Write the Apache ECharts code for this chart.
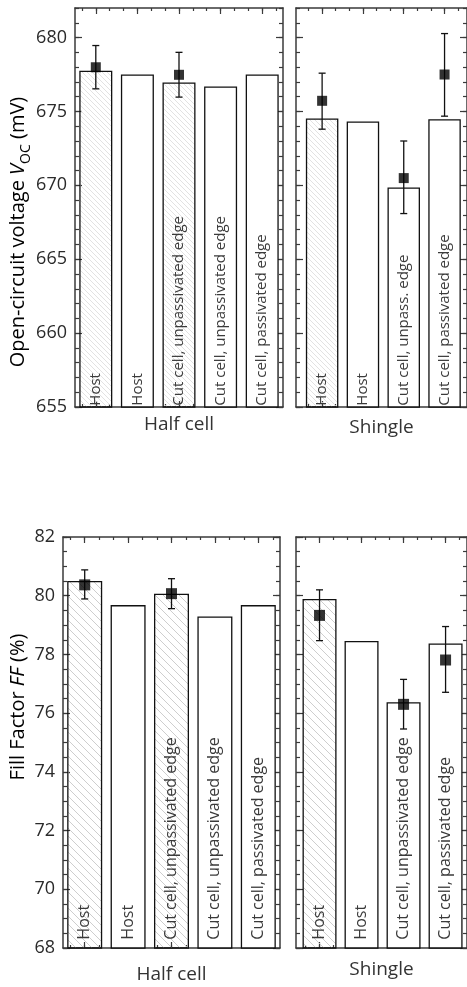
<!DOCTYPE html>
<html><head><meta charset="utf-8">
<script src="https://cdn.jsdelivr.net/npm/echarts@6/dist/echarts.min.js"></script>
<style>html,body{margin:0;padding:0;background:#fff}#c{width:467px;height:987px}</style>
</head><body><div id="c"></div>
<script>
// ---------- data ----------
const halfNames = ['Host', 'Host', 'Cut cell, unpassivated edge', 'Cut cell, unpassivated edge', 'Cut cell, passivated edge'];
const shingleNamesVoc = ['Host', 'Host', 'Cut cell, unpass. edge', 'Cut cell, passivated edge'];
const shingleNamesFF = ['Host', 'Host', 'Cut cell, unpassivated edge', 'Cut cell, passivated edge'];
const halfHatched = [true, false, true, false, false];
const shingleHatched = [true, false, false, false];
const halfPos = [0, 1, 2, 3, 4];
const shinglePos = [0, 1, 2, 3];

const vocHalfBar = [677.75, 677.5, 676.96, 676.69, 677.5];
const vocHalfMean = [677.99, null, 677.48, null, null];
const vocHalfLow = [676.53, null, 675.97, null, null];
const vocHalfHigh = [679.46, null, 679.0, null, null];
const vocShingleBar = [674.53, 674.32, 669.86, 674.48];
const vocShingleMean = [675.72, null, 670.49, 677.5];
const vocShingleLow = [673.8, null, 668.09, 674.68];
const vocShingleHigh = [677.59, null, 673.0, 680.27];

const ffHalfBar = [80.5, 79.68, 80.07, 79.29, 79.68];
const ffHalfMean = [80.37, null, 80.07, null, null];
const ffHalfLow = [79.89, null, 79.56, null, null];
const ffHalfHigh = [80.88, null, 80.58, null, null];
const ffShingleBar = [79.89, 78.46, 76.37, 78.37];
const ffShingleMean = [79.33, null, 76.3, 77.81];
const ffShingleLow = [78.47, null, 75.46, 76.71];
const ffShingleHigh = [80.2, null, 77.15, 78.95];

const vocTicks = [655, 660, 665, 670, 675, 680];
const vocMinorTicks = [655,656,657,658,659,660,661,662,663,664,665,666,667,668,669,670,671,672,673,674,675,676,677,678,679,680,681,682];
const ffTicks = [68, 70, 72, 74, 76, 78, 80, 82];
const ffMinorTicks = [68,68.5,69,69.5,70,70.5,71,71.5,72,72.5,73,73.5,74,74.5,75,75.5,76,76.5,77,77.5,78,78.5,79,79.5,80,80.5,81,81.5,82];

// ---------- style ----------
const FONT = 'Open Sans';
const AX = '#3a3a3a';
const chart = echarts.init(document.getElementById('c'), null, {renderer: 'canvas'});

function hatch(size, color, lw) {
  const c = document.createElement('canvas');
  c.width = size; c.height = size;
  const g = c.getContext('2d');
  g.strokeStyle = color; g.lineWidth = lw;
  g.beginPath();
  g.moveTo(0, 0); g.lineTo(size, size);
  g.moveTo(-2, size - 2); g.lineTo(2, size + 2);
  g.moveTo(size - 2, -2); g.lineTo(size + 2, 2);
  g.stroke();
  return c;
}
const hatchTop = hatch(5, '#dadada', 0.8);
const hatchBot = hatch(8, '#c8c8c8', 0.9);

function minorX(min, max) {
  const out = [];
  for (let k = Math.ceil(min * 3); k <= Math.floor(max * 3); k++) out.push(k / 3);
  return out;
}

const xAxes = [], yAxes = [], series = [];

function panel(cfg) {
  const gi = cfg.gi;
  const xi = xAxes.length, yi = yAxes.length;
  const line = {show: true, onZero: false, lineStyle: {color: AX, width: 1.5}};
  const noLine = {show: false, onZero: false};
  const base = {type: 'value', gridIndex: gi, min: cfg.xmin, max: cfg.xmax, splitLine: {show: false}, axisLabel: {show: false}};
  xAxes.push(Object.assign({}, base, {position: 'bottom', axisLine: line,
    axisTick: {show: true, inside: true, length: 6, customValues: cfg.pos, lineStyle: {color: AX, width: 1.2}},
    name: cfg.title, nameLocation: 'middle', nameGap: cfg.titleGap,
    nameTextStyle: {fontFamily: FONT, fontSize: 19, color: '#333'}}));
  xAxes.push(Object.assign({}, base, {position: 'top', axisLine: line,
    axisTick: {show: true, inside: true, length: 6, customValues: cfg.pos, lineStyle: {color: AX, width: 1.2}}}));
  const mx = minorX(cfg.xmin, cfg.xmax);
  xAxes.push(Object.assign({}, base, {position: 'bottom', axisLine: noLine,
    axisTick: {show: true, inside: true, length: 3, customValues: mx, lineStyle: {color: AX, width: 1.2}}}));
  xAxes.push(Object.assign({}, base, {position: 'top', axisLine: noLine,
    axisTick: {show: true, inside: true, length: 3, customValues: mx, lineStyle: {color: AX, width: 1.2}}}));

  const ybase = {type: 'value', gridIndex: gi, min: cfg.ymin, max: cfg.ymax, splitLine: {show: false}, axisLabel: {show: false}};
  yAxes.push(Object.assign({}, ybase, {position: 'left', axisLine: line,
    axisTick: {show: true, inside: true, length: 7, customValues: cfg.yMajor, lineStyle: {color: AX, width: 1.2}},
    axisLabel: {show: cfg.yLabels, customValues: cfg.yMajor, margin: 8, fontFamily: FONT, fontSize: 18, color: '#2a2a2a'}}));
  yAxes.push(Object.assign({}, ybase, {position: 'right', axisLine: line,
    axisTick: {show: true, inside: true, length: 7, customValues: cfg.yMajor, lineStyle: {color: AX, width: 1.2}}}));
  yAxes.push(Object.assign({}, ybase, {position: 'left', axisLine: noLine,
    axisTick: {show: true, inside: true, length: 4, customValues: cfg.yMinor, lineStyle: {color: AX, width: 1.2}}}));
  yAxes.push(Object.assign({}, ybase, {position: 'right', axisLine: noLine,
    axisTick: {show: true, inside: true, length: 4, customValues: cfg.yMinor, lineStyle: {color: AX, width: 1.2}}}));

  const pat = cfg.bottom ? hatchBot : hatchTop;
  series.push({
    type: 'bar', xAxisIndex: xi, yAxisIndex: yi, barWidth: cfg.barW, z: 2,
    data: cfg.pos.map((p, i) => ({
      value: [p, cfg.bar[i]],
      itemStyle: {color: cfg.hatched[i] ? {image: pat, repeat: 'repeat'} : '#fff', borderColor: '#111', borderWidth: 1.3}
    })),
    label: {show: true, position: 'insideBottom', rotate: 90, align: 'left', verticalAlign: 'middle',
      distance: cfg.labelDist, fontFamily: FONT, fontSize: cfg.labelSize, color: '#3a3a3a',
      formatter: p => cfg.names[p.dataIndex]},
    emphasis: {disabled: true}, silent: true
  });
  const err = [], pts = [];
  cfg.pos.forEach((p, i) => {
    if (cfg.low[i] != null) err.push([p, cfg.low[i], cfg.high[i]]);
    if (cfg.mean[i] != null) pts.push([p, cfg.mean[i]]);
  });
  series.push({
    type: 'custom', xAxisIndex: xi, yAxisIndex: yi, z: 5, silent: true,
    data: err,
    renderItem: (params, api) => {
      const x = api.value(0);
      const a = api.coord([x, api.value(1)]), b = api.coord([x, api.value(2)]);
      const w = 3.5, st = {stroke: '#111', lineWidth: 1.3};
      return {type: 'group', children: [
        {type: 'line', shape: {x1: a[0], y1: a[1], x2: b[0], y2: b[1]}, style: st},
        {type: 'line', shape: {x1: a[0] - w, y1: a[1], x2: a[0] + w, y2: a[1]}, style: st},
        {type: 'line', shape: {x1: b[0] - w, y1: b[1], x2: b[0] + w, y2: b[1]}, style: st}
      ]};
    }
  });
  series.push({
    type: 'scatter', xAxisIndex: xi, yAxisIndex: yi, z: 6, silent: true,
    symbol: 'rect', symbolSize: cfg.sym, itemStyle: {color: '#000'}, data: pts
  });
}

panel({gi: 0, xmin: -0.5, xmax: 4.5, pos: halfPos, ymin: 655, ymax: 682, yMajor: vocTicks, yMinor: vocMinorTicks,
  yLabels: true, title: 'Half cell', titleGap: 8, bar: vocHalfBar, mean: vocHalfMean, low: vocHalfLow, high: vocHalfHigh,
  names: halfNames, hatched: halfHatched, barW: 33, sym: 10, labelDist: 2, labelSize: 15, bottom: false});
panel({gi: 1, xmin: -0.64, xmax: 3.55, pos: shinglePos, ymin: 655, ymax: 682, yMajor: vocTicks, yMinor: vocMinorTicks,
  yLabels: false, title: 'Shingle', titleGap: 11, bar: vocShingleBar, mean: vocShingleMean, low: vocShingleLow, high: vocShingleHigh,
  names: shingleNamesVoc, hatched: shingleHatched, barW: 32.5, sym: 10, labelDist: 2, labelSize: 15, bottom: false});
panel({gi: 2, xmin: -0.5, xmax: 4.5, pos: halfPos, ymin: 68, ymax: 82, yMajor: ffTicks, yMinor: ffMinorTicks,
  yLabels: true, title: 'Half cell', titleGap: 17, bar: ffHalfBar, mean: ffHalfMean, low: ffHalfLow, high: ffHalfHigh,
  names: halfNames, hatched: halfHatched, barW: 35, sym: 11, labelDist: 9, labelSize: 16, bottom: true});
panel({gi: 3, xmin: -0.56, xmax: 3.51, pos: shinglePos, ymin: 68, ymax: 82, yMajor: ffTicks, yMinor: ffMinorTicks,
  yLabels: false, title: 'Shingle', titleGap: 12, bar: ffShingleBar, mean: ffShingleMean, low: ffShingleLow, high: ffShingleHigh,
  names: shingleNamesFF, hatched: shingleHatched, barW: 34, sym: 11, labelDist: 9, labelSize: 16, bottom: true});

chart.setOption({
  animation: false,
  backgroundColor: '#fff',
  grid: [
    {left: 75, top: 8, width: 208, height: 399},
    {left: 296, top: 8, width: 171, height: 399},
    {left: 63, top: 537, width: 217, height: 411},
    {left: 296, top: 537, width: 174, height: 411}
  ],
  xAxis: xAxes,
  yAxis: yAxes,
  series: series,
  graphic: [
    {type: 'text', x: 18, y: 232, rotation: Math.PI / 2, silent: true,
      style: {text: '{n|Open-circuit voltage }{i|V}{s|OC}{n| (mV)}', align: 'center', verticalAlign: 'middle',
        rich: {n: {fontFamily: FONT, fontSize: 20, color: '#333'},
               i: {fontFamily: FONT, fontSize: 20, fontStyle: 'italic', color: '#333'},
               s: {fontFamily: FONT, fontSize: 14, color: '#333', verticalAlign: 'bottom', padding: [0, 0, -5, 0]}}}},
    {type: 'text', x: 18, y: 707, rotation: Math.PI / 2, silent: true,
      style: {text: '{n|Fill Factor }{i|FF}{n| (%)}', align: 'center', verticalAlign: 'middle',
        rich: {n: {fontFamily: FONT, fontSize: 20, color: '#333'},
               i: {fontFamily: FONT, fontSize: 20, fontStyle: 'italic', color: '#333'}}}}
  ]
});
</script></body></html>
